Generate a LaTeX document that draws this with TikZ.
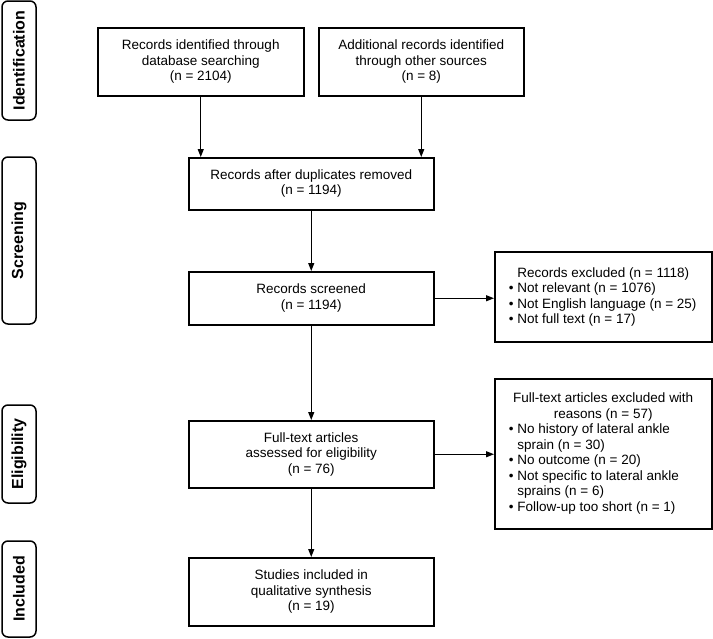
\documentclass[tikz,border=0pt]{standalone}
\usepackage{fontspec}
\setmainfont{Liberation Sans}
\usetikzlibrary{arrows.meta}
\newcommand\bitem[1]{\makebox[189pt][l]{\textbullet\hspace{4pt}#1}}
\newcommand\bcont[1]{\makebox[189pt][l]{\phantom{\textbullet}\hspace{4pt}#1}}
\begin{document}
\begin{tikzpicture}[x=1pt,y=-1pt,
  box/.style={draw, line width=1.5pt, anchor=north west, inner sep=0pt, align=center,
    font=\fontsize{13.5}{15.5}\selectfont},
  phase/.style={draw, line width=1.5pt, rounded corners=6pt, rotate=90, inner sep=0pt,
    font=\bfseries\fontsize{16}{16}\selectfont},
  arr/.style={line width=1.1pt, -{Triangle[length=8pt,width=6pt]}}]
\useasboundingbox (0,0) rectangle (713,638);

% phase labels
\node[phase, minimum width=119pt, minimum height=34pt] (p1) at (19,60.5) {Identification};
\node[phase, minimum width=167pt, minimum height=34pt] (p2) at (19,240.5) {Screening};
\node[phase, minimum width=98pt, minimum height=34pt] (p3) at (19,454) {Eligibility};
\node[phase, minimum width=96pt, minimum height=34pt] (p4) at (19,589) {Included};

% boxes
\node[box, minimum width=206pt, minimum height=68pt] (b1) at (97,27)
  {Records identified through\\database searching\\(n = 2104)};
\node[box, minimum width=205pt, minimum height=68pt] (b2) at (318,27)
  {Additional records identified\\through other sources\\(n = 8)};
\node[box, minimum width=245pt, minimum height=52pt] (b3) at (188,157)
  {Records after duplicates removed\\(n = 1194)};
\node[box, minimum width=245pt, minimum height=53pt] (b4) at (188,271)
  {Records screened\\(n = 1194)};
\node[box, minimum width=217pt, minimum height=90pt] (b5) at (494,251)
  {Records excluded (n = 1118)\\
   \bitem{Not relevant (n = 1076)}\\
   \bitem{Not English language (n = 25)}\\
   \bitem{Not full text (n = 17)}};
\node[box, minimum width=245pt, minimum height=67pt] (b6) at (188,420)
  {Full-text articles\\assessed for eligibility\\(n = 76)};
\node[box, minimum width=217pt, minimum height=150pt] (b7) at (494,378)
  {Full-text articles excluded with\\reasons (n = 57)\\
   \bitem{No history of lateral ankle}\\
   \bcont{sprain (n = 30)}\\
   \bitem{No outcome (n = 20)}\\
   \bitem{Not specific to lateral ankle}\\
   \bcont{sprains (n = 6)}\\
   \bitem{Follow-up too short (n = 1)}};
\node[box, minimum width=245pt, minimum height=68pt] (b8) at (188,557)
  {Studies included in\\qualitative synthesis\\(n = 19)};

% connectors
\draw[arr] (b1.south) -- (b1.south |- b3.north);
\draw[arr] (b2.south) -- (b2.south |- b3.north);
\draw[arr] (b3.south) -- (b4.north);
\draw[arr] (b4.south) -- (b6.north);
\draw[arr] (b6.south) -- (b8.north);
\draw[arr] (b4.east) -- (b4.east -| b5.west);
\draw[arr] (b6.east) -- (b6.east -| b7.west);
\end{tikzpicture}
\end{document}
